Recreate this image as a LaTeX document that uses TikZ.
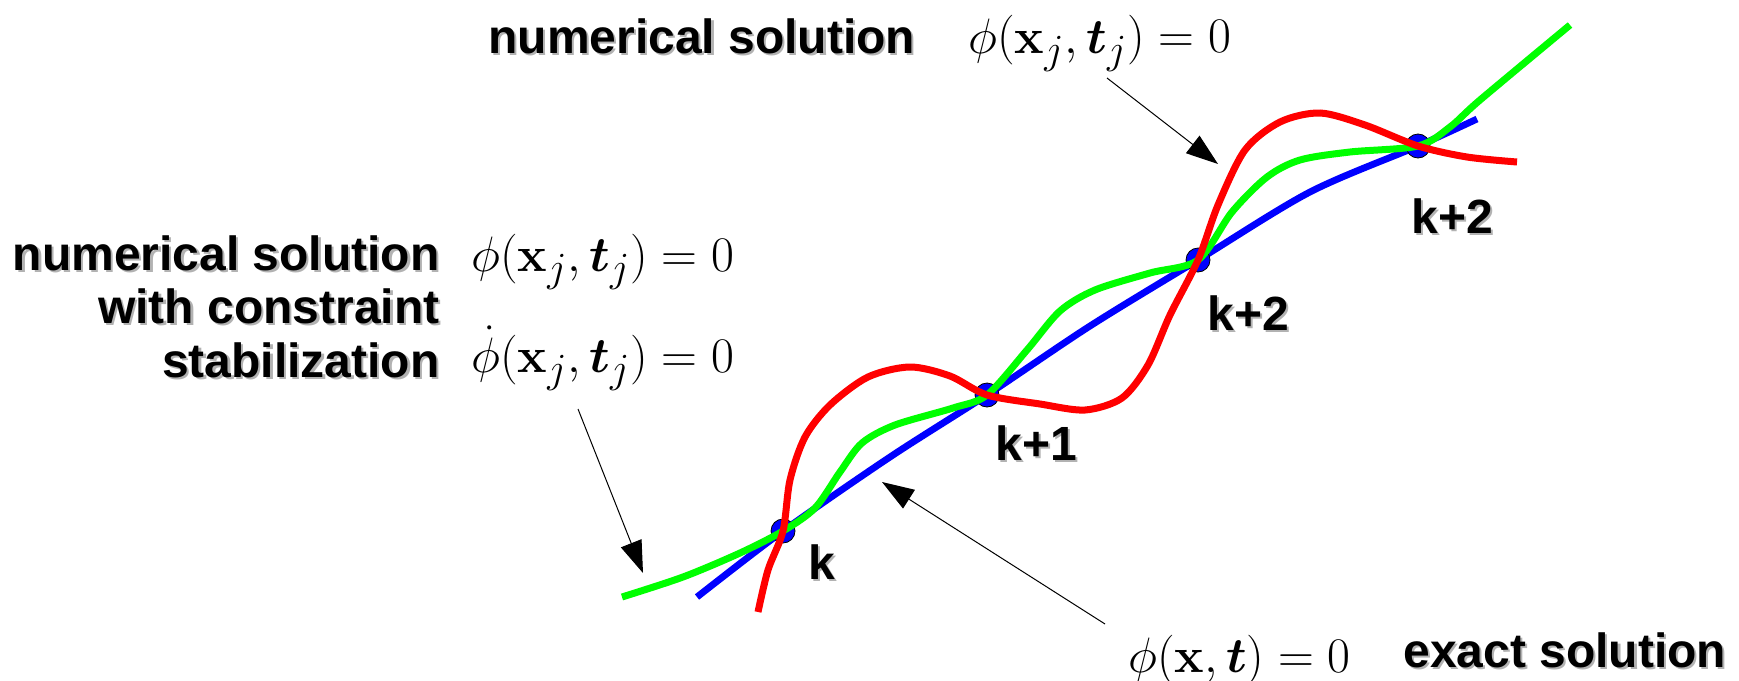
\documentclass[tikz,border=0pt]{standalone}
\usepackage[no-math]{fontspec}
\newfontfamily\lblfont{Liberation Sans}
\usepackage{bm}
\usetikzlibrary{arrows.meta, positioning}

% bold label with a grey drop shadow
\newcommand{\shtext}[1]{\makebox[0pt][l]{\hspace{1.1pt}\raisebox{-1.1pt}{\textcolor{black!30}{#1}}}#1}

\begin{document}
\begin{tikzpicture}[x=0.5pt, y=-0.5pt,
          lbl/.style={inner sep=0pt, font=\lblfont\bfseries\fontsize{24}{26.75}\selectfont},
          eq/.style={inner sep=0pt, font=\fontsize{31}{36}\selectfont},
          exact/.style={blue, line width=3.4pt},
          stab/.style={green, line width=3.5pt},
          plain/.style={red, line width=3.5pt},
          knot/.style={fill=blue, draw=black, line width=0.4pt},
          pointer/.style={-{Triangle[length=16pt, width=11pt]}, line width=0.5pt}]

        \useasboundingbox (0,0) rectangle (1739,680);

        % time steps on the exact solution
        \coordinate (pk) at (783,531);
        \coordinate (pk1) at (987,395);
        \coordinate (pk2) at (1198,260);
        \coordinate (pk3) at (1418,146);

        \draw [exact] plot [smooth] coordinates {(697,597) (pk) (890,457) (pk1) (1090,326) (pk2)
              (1310,192) (pk3) (1477,119)};

        \foreach \p in {pk, pk1, pk2, pk3}
          \filldraw [knot] (\p) circle (6pt);

        \draw [stab] plot [smooth] coordinates {(622,597) (683,577) (740,553) (pk) (815,508) (840,472)
              (862,443) (895,425) (953,408) (pk1) (1027,350) (1060,311) (1095,290) (1150,273) (pk2)
              (1232,212) (1267,177) (1300,160) (1350,152) (pk3) (1450,127) (1480,100) (1570,25)};

        \draw [plain] plot [smooth] coordinates {(758,612) (768,570) (pk) (790,480) (805,437) (830,405)
              (868,377) (910,367) (950,376) (pk1) (1040,404) (1085,410) (1122,398) (1148,365) (1170,315)
              (pk2) (1218,205) (1245,150) (1280,122) (1320,113) (1365,125) (pk3) (1467,157) (1517,162)};

        \node [lbl, anchor=base west] (lbl_k) at (808,579) {\shtext{k}};
        \node [lbl, anchor=base west] (lbl_k1) at (995,460) {\shtext{k+1}};
        \node [lbl, anchor=base west] (lbl_k2) at (1207,330) {\shtext{k+2}};
        \node [lbl, anchor=base west] (lbl_k3) at (1411,233) {\shtext{k+2}};

        \node [lbl, anchor=base west] (top_txt) at (488,53) {\shtext{numerical solution}};
        \node [eq, anchor=base west] (top_eq) at (968,53) {$\phi\bigl(\mathbf{x}_j,\bm{t}_j\bigr)=0$};

        \node [lbl, align=right, anchor=base east] (stab_txt) at (440,377)
              {\shtext{numerical solution}\\\shtext{with constraint}\\\shtext{stabilization}};
        \node [eq, anchor=base west] (stab_eq) at (471,271) {$\phi\bigl(\mathbf{x}_j,\bm{t}_j\bigr)=0$};
        \node [eq, anchor=base west] (stab_deq) at (471,372) {$\dot{\phi}\bigl(\mathbf{x}_j,\bm{t}_j\bigr)=0$};

        \node [eq, anchor=base west] (exact_eq) at (1128,672) {$\phi\bigl(\mathbf{x},\bm{t}\bigr)=0$};
        \node [lbl, anchor=base west] (exact_txt) at (1403,667) {\shtext{exact solution}};

        \coordinate (top_from) at (1107,78);
        \coordinate (top_to) at (1218,164);
        \coordinate (stab_from) at (578,409);
        \coordinate (stab_to) at (643,573);
        \coordinate (exact_from) at (1105,624);
        \coordinate (exact_to) at (882,482);

        \draw [pointer] (top_from) -- (top_to);
        \draw [pointer] (stab_from) -- (stab_to);
        \draw [pointer] (exact_from) -- (exact_to);
      \end{tikzpicture}
\end{document}
